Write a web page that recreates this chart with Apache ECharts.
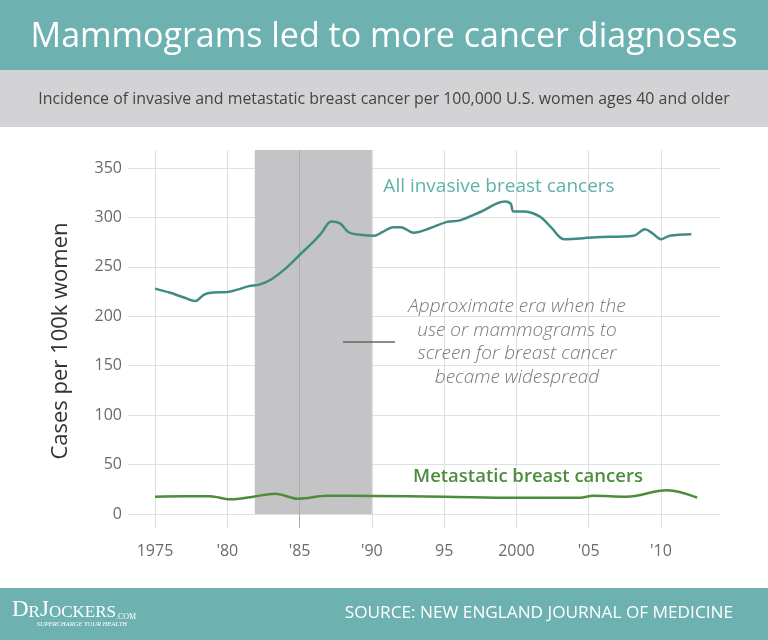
<!DOCTYPE html>
<html><head><meta charset="utf-8">
<script src="https://cdn.jsdelivr.net/npm/echarts@6/dist/echarts.min.js"></script>
<style>html,body{margin:0;padding:0;background:#fff}#c{width:768px;height:640px}</style>
</head><body><div id="c"></div>
<script>
// ---- data ----
const titleText = 'Mammograms led to more cancer diagnoses';
const subtitleText = 'Incidence of invasive and metastatic breast cancer per 100,000 U.S. women ages 40 and older';
const yAxisTitle = 'Cases per 100k women';
const sourceText = 'SOURCE: NEW ENGLAND JOURNAL OF MEDICINE';
const xTickYears = [1975, 1980, 1985, 1990, 1995, 2000, 2005, 2010];
const xTickLabels = ['1975', "'80", "'85", "'90", '95', '2000', "'05", "'10"];
const yTicks = [0, 50, 100, 150, 200, 250, 300, 350];
const invasiveYears = [1975.0, 1976.0, 1977.0, 1977.8, 1978.4, 1979.0, 1980.0, 1980.7, 1981.5, 1982.2, 1983.0, 1984.0, 1985.0, 1986.0, 1986.5, 1987.2, 1987.8, 1988.4, 1989.2, 1990.2, 1990.7, 1991.5, 1992.0, 1992.9, 1994.0, 1995.2, 1996.1, 1997.5, 1999.2, 1999.6, 1999.8, 2000.5, 2001.6, 2002.4, 2003.3, 2005.5, 2008.1, 2008.9, 2009.4, 2010.0, 2010.6, 2012.1];
const invasiveValues = [228, 224, 219, 215.5, 222, 224, 224.5, 227, 230.5, 232, 237, 248, 262, 276, 284, 296, 294, 285, 282.5, 281.5, 285, 290, 290, 284.5, 289, 295.5, 297, 305.5, 316, 314, 306, 306, 301, 290, 278, 280, 281.5, 288, 284, 278, 281.5, 283];
const metastaticYears = [1975, 1977, 1978.8, 1980.2, 1981.8, 1983.3, 1984.9, 1986.9, 1990, 1995, 2000, 2004.4, 2005.3, 2007.6, 2010.4, 2012.5];
const metastaticValues = [17.5, 18, 18, 14.8, 17.5, 20.5, 15.5, 18.5, 18.3, 17.5, 16.5, 16.5, 18.5, 17.5, 24, 16.5];
const screeningEra = [1981.9, 1990];
const annotationLines = ['Approximate era when the', 'use or mammograms to', 'screen for breast cancer', 'became widespread'];
const invasiveLabel = 'All invasive breast cancers';
const metastaticLabel = 'Metastatic breast cancers';

// ---- layout ----
const PPU = 346 / 350;           // px per unit on y
const xMinA = 1975 - 27 / 14.457, xMaxA = 2010 + 59 / 14.457;
const yMinB = -14 / PPU, yMaxB = 364 / PPU;

const pair = (xs, ys) => xs.map((x, i) => [x, ys[i]]);
const FONT = '"Open Sans"';

const chart = echarts.init(document.getElementById('c'), null, {renderer: 'canvas'});
chart.setOption({
  animation: false,
  backgroundColor: '#ffffff',
  grid: [
    {left: 128, right: 48, top: 168, bottom: 126},
    {left: 155, right: 107, top: 150, bottom: 112}
  ],
  xAxis: [
    {gridIndex: 0, type: 'value', min: xMinA, max: xMaxA, show: false, splitLine: {show: false}},
    {gridIndex: 1, type: 'value', min: xTickYears[0], max: xTickYears[xTickYears.length - 1], interval: 5,
     axisLine: {show: false}, axisTick: {show: false},
     splitLine: {show: true, lineStyle: {color: '#e0e0e0', width: 1}},
     axisLabel: {margin: 15, color: '#6a6a6a', fontSize: 16, fontFamily: FONT,
       formatter: v => { const i = xTickYears.indexOf(v); return i >= 0 ? xTickLabels[i] : ''; }}}
  ],
  yAxis: [
    {gridIndex: 0, type: 'value', min: yTicks[0], max: yTicks[yTicks.length - 1], interval: 50,
     axisLine: {show: false}, axisTick: {show: false},
     splitLine: {show: true, lineStyle: {color: '#e0e0e0', width: 1}},
     axisLabel: {margin: 6, color: '#6a6a6a', fontSize: 16, fontFamily: FONT},
     name: yAxisTitle, nameLocation: 'middle', nameGap: 56,
     nameTextStyle: {color: '#333', fontSize: 22, fontFamily: FONT}},
    {gridIndex: 1, type: 'value', min: yMinB, max: yMaxB, show: false, splitLine: {show: false}}
  ],
  graphic: [
    {type: 'rect', shape: {x: 0, y: 0, width: 768, height: 70}, style: {fill: '#6db2b1'}, z: -10},
    {type: 'rect', shape: {x: 0, y: 70, width: 768, height: 57}, style: {fill: '#d3d3d5'}, z: -10},
    {type: 'rect', shape: {x: 0, y: 588, width: 768, height: 52}, style: {fill: '#6db2b1'}, z: -10},
    {type: 'text', x: 384, y: 37, style: {text: titleText, fill: '#fff', font: '500 34px ' + FONT, textAlign: 'center', textVerticalAlign: 'middle'}},
    {type: 'text', x: 384, y: 99, style: {text: subtitleText, fill: '#444', font: '15.9px ' + FONT, textAlign: 'center', textVerticalAlign: 'middle'}},
    {type: 'text', x: 733, y: 613, style: {text: sourceText, fill: '#fff', font: '17.2px ' + FONT, textAlign: 'right', textVerticalAlign: 'middle'}},
    {type: 'text', x: 12, y: 598, style: {
      text: '{a|D}{b|R}{a|J}{b|OCKERS}{c|.COM}',
      rich: {
        a: {font: '23px "Liberation Serif"', fill: '#fff', verticalAlign: 'bottom'},
        b: {font: '17px "Liberation Serif"', fill: '#fff', verticalAlign: 'bottom'},
        c: {font: '8px "Liberation Serif"', fill: '#fff', verticalAlign: 'bottom'}
      }}},
    {type: 'text', x: 127, y: 624, style: {text: 'SUPERCHARGE YOUR HEALTH', fill: '#fff', font: 'italic 6.5px "Liberation Serif"', textAlign: 'right', textVerticalAlign: 'middle'}},
    {type: 'text', x: 499, y: 187, style: {text: invasiveLabel, fill: '#5fb1aa', font: '19px ' + FONT, textAlign: 'center', textVerticalAlign: 'middle'}, z: 10},
    {type: 'text', x: 528, y: 477, style: {text: metastaticLabel, fill: '#4b8d3c', font: '600 18.5px ' + FONT, textAlign: 'center', textVerticalAlign: 'middle'}, z: 10},
    {type: 'text', x: 517, y: 295, style: {text: annotationLines.join('\n'), fill: '#777', font: 'italic 300 19px ' + FONT, lineHeight: 23.6, textAlign: 'center', textVerticalAlign: 'top'}, z: 10}
  ],
  series: [
    {name: 'era', type: 'line', xAxisIndex: 1, yAxisIndex: 1, data: [], silent: true,
     markArea: {silent: true, itemStyle: {color: '#c4c4c6'}, data: [[{coord: [screeningEra[0], 0]}, {coord: [screeningEra[1], yMaxB]}]]},
     markLine: {silent: true, symbol: 'none', label: {show: false},
       lineStyle: {color: '#adadaf', width: 1, type: 'solid'},
       data: xTickYears.filter(y => y > screeningEra[0] && y < screeningEra[1]).map(y => ({xAxis: y}))}},
    {name: invasiveLabel, type: 'line', xAxisIndex: 0, yAxisIndex: 0, data: pair(invasiveYears, invasiveValues),
     smooth: 0.35, showSymbol: false, lineStyle: {color: '#3f8c85', width: 2.5}, z: 5,
     markLine: {silent: true, symbol: 'none', label: {show: false}, lineStyle: {color: '#666', width: 1.5, type: 'solid'},
       data: [[{coord: [1988.0, 174]}, {coord: [1991.6, 174]}]]}},
    {name: metastaticLabel, type: 'line', xAxisIndex: 0, yAxisIndex: 0, data: pair(metastaticYears, metastaticValues),
     smooth: 0.35, showSymbol: false, lineStyle: {color: '#4b8d3c', width: 2.5}, z: 5}
  ]
});
</script></body></html>
